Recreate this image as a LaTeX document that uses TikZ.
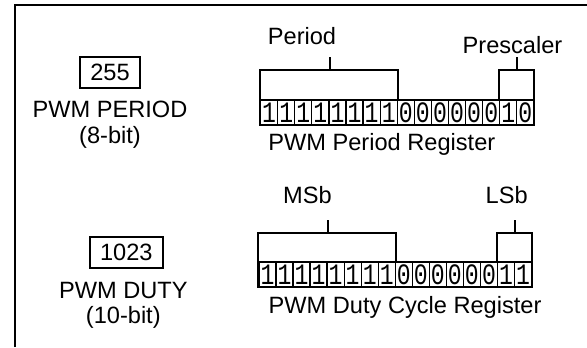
\documentclass[tikz,border=0pt]{standalone}
\usepackage{fontspec}
\setmainfont{Liberation Sans}
\newfontfamily\bitfont{Liberation Mono}[FakeStretch=0.78]
\usetikzlibrary{calc,positioning}

\tikzset{
  lbl/.style={font=\fontsize{11.8pt}{13pt}\selectfont, inner sep=0pt},
  bitcell/.style={draw, line width=0.6pt, minimum width=8.53pt, minimum height=11.8pt,
    inner sep=0pt, anchor=north west, font=\bitfont\fontsize{14.8pt}{15pt}\selectfont},
  valbox/.style={draw, line width=1pt, inner xsep=5pt, inner ysep=0pt,
    minimum height=15.8pt, font=\fontsize{11.8pt}{13pt}\selectfont},
  brk/.style={line width=1pt},
}

\begin{document}
\begin{tikzpicture}[x=0.5pt, y=-0.5pt]
  \useasboundingbox (0,0) rectangle (587,347);
  % frame
  \draw[line width=1pt] (14.5,347) -- (14.5,5) -- (587,5);

  % left side values
  \node[valbox] (pval) at (110,72.5) {255};
  \node[lbl, anchor=base] (pname) at (110,118) {PWM PERIOD};
  \node[lbl, anchor=base] (pbits) at (110,143.3) {(8-bit)};
  \node[valbox] (dval) at (126.3,252.5) {1023};
  \node[lbl, anchor=base] (dname) at (123.3,298.3) {PWM DUTY};
  \node[lbl, anchor=base] (dbits) at (123.3,323.3) {(10-bit)};

  % period register
  \foreach \b [count=\i] in {1,1,1,1,1,1,1,1,0,0,0,0,0,0,1,0}
    \node[bitcell] (p\i) at ({260+(\i-1)*17.08},100) {\b};
  \draw[brk] (p1.north west) rectangle (p16.south east);
  \draw[brk] (p1.north west) -- ++(0,-30) -| (p8.north east);
  \draw[brk] (p15.north west) -- ++(0,-30) -| (p16.north east);
  \coordinate (ptick) at ($(p4.north east)+(0,-30)$);
  \coordinate (stick) at ($(p15.north east)+(0,-30)$);
  \draw[brk] (ptick) -- ++(0,-13);
  \draw[brk] (stick) -- ++(0,-13);
  \node[lbl, anchor=base] (per) at (302,45) {Period};
  \node[lbl, anchor=base] (pre) at (512.5,53.3) {Prescaler};
  \node[lbl, anchor=base west] (preg) at (268,150) {PWM Period Register};

  % duty cycle register
  \foreach \b [count=\i] in {1,1,1,1,1,1,1,1,0,0,0,0,0,0,1,1}
    \node[bitcell, minimum height=12.15pt] (d\i) at ({258.3+(\i-1)*17.04},261.7) {\b};
  \draw[brk] (d1.north west) rectangle (d16.south east);
  \draw[brk] (d1.north west) -- ++(0,-29) -| (d8.north east);
  \draw[brk] (d15.north west) -- ++(0,-29) -| (d16.north east);
  \coordinate (mtick) at ($(d4.north east)+(0,-29)$);
  \coordinate (ltick) at ($(d15.north east)+(0,-29)$);
  \draw[brk] (mtick) -- ++(0,-13);
  \draw[brk] (ltick) -- ++(0,-13);
  \node[lbl, anchor=base] (msb) at (307.5,203.3) {MSb};
  \node[lbl, anchor=base] (lsb) at (506.7,203.3) {LSb};
  \node[lbl, anchor=base west] (dreg) at (268.3,313.3) {PWM Duty Cycle Register};
\end{tikzpicture}
\end{document}
